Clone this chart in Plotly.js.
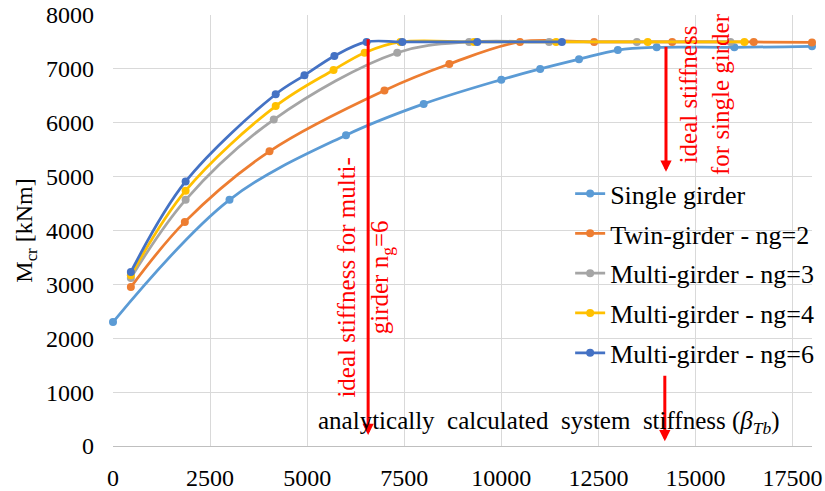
<!DOCTYPE html>
<html>
<head>
<meta charset="utf-8">
<script src="https://cdn.plot.ly/plotly-3.0.1.min.js"></script>
<style>html,body{margin:0;padding:0;background:#fff;}#chart{width:825px;height:491px;}</style>
</head>
<body>
<div id="chart"></div>
<script>
// ---- data ----
const seriesNames = ["Single girder", "Twin-girder - ng=2", "Multi-girder - ng=3", "Multi-girder - ng=4", "Multi-girder - ng=6"];
const xSingle = [0, 3000, 6000, 8000, 10000, 11000, 12000, 13000, 14000, 16000, 18000];
const ySingle = [2300, 4570, 5770, 6350, 6800, 7000, 7180, 7350, 7400, 7400, 7420];
const xTwin = [460, 1850, 4030, 6990, 8660, 10480, 12390, 14400, 16500, 18000];
const yTwin = [2950, 4160, 5470, 6600, 7090, 7500, 7500, 7500, 7500, 7490];
const xNg3 = [460, 1870, 4140, 7320, 9170, 11230, 13490, 15900];
const yNg3 = [3120, 4570, 6060, 7300, 7500, 7500, 7500, 7500];
const xNg4 = [460, 1870, 4190, 5680, 6480, 7400, 9300, 11410, 13770, 16260];
const yNg4 = [3170, 4740, 6310, 6980, 7300, 7500, 7500, 7500, 7500, 7500];
const xNg6 = [460, 1870, 4190, 4930, 5700, 6530, 7450, 9380, 11560];
const yNg6 = [3230, 4910, 6530, 6880, 7240, 7500, 7500, 7500, 7500];
const colors = ["#5B9BD5", "#ED7D31", "#A5A5A5", "#FFC000", "#4472C4"];
const xTicks = [0, 2500, 5000, 7500, 10000, 12500, 15000, 17500];
const yTicks = [0, 1000, 2000, 3000, 4000, 5000, 6000, 7000, 8000];

const FONT = "Liberation Serif, Times New Roman, serif";
const xs = [xSingle, xTwin, xNg3, xNg4, xNg6];
const ys = [ySingle, yTwin, yNg3, yNg4, yNg6];

const traces = seriesNames.map((n, i) => ({
  type: "scatter", mode: "lines+markers", name: n,
  x: xs[i], y: ys[i], legendgroup: "g" + i,
  line: {color: colors[i], width: 2.75, shape: "spline", smoothing: 1},
  marker: {color: colors[i], size: 8},
  cliponaxis: false
}));

const arrowBase = {text: "", showarrow: true, arrowhead: 2, arrowsize: 0.75, arrowwidth: 3,
  arrowcolor: "#FF0000", xref: "x", yref: "y", axref: "x", ayref: "y", standoff: 0};

const layout = {
  width: 825, height: 491,
  margin: {l: 113, r: 13, t: 15, b: 45, autoexpand: false},
  paper_bgcolor: "#fff", plot_bgcolor: "#fff",
  font: {family: FONT, color: "#000", size: 24},
  showlegend: true,
  legend: {x: 0.654, y: 0.64, xanchor: "left", yanchor: "top", bgcolor: "rgba(0,0,0,0)",
    font: {family: FONT, size: 26, color: "#000"}, tracegroupgap: 3},
  xaxis: {range: [0, 18000], tickvals: xTicks, ticktext: xTicks.map(String),
    showgrid: true, gridcolor: "#D9D9D9", gridwidth: 1, zeroline: false,
    showline: true, linecolor: "#BFBFBF", linewidth: 1, ticks: "", ticklabelstandoff: 10,
    tickfont: {family: FONT, size: 24, color: "#000"}},
  yaxis: {range: [0, 8000], tickvals: yTicks, ticktext: yTicks.map(String),
    showgrid: true, gridcolor: "#D9D9D9", gridwidth: 1, zeroline: false,
    showline: false, ticks: "", ticklabelstandoff: 18,
    tickfont: {family: FONT, size: 24, color: "#000"},
    title: {text: "M<sub>cr</sub> [kNm]", font: {family: FONT, size: 24, color: "#000"}, standoff: 6}},
  annotations: [
    Object.assign({}, arrowBase, {x: 6570, y: 205, ax: 6570, ay: 7580}),
    Object.assign({}, arrowBase, {x: 14240, y: 5090, ax: 14240, ay: 7440}),
    Object.assign({}, arrowBase, {x: 14210, y: 90, ax: 14210, ay: 1330}),
    {text: "ideal stiffness for multi-<br>girder n<sub>g</sub>=6", x: 6500, y: 3134, xref: "x", yref: "y",
      showarrow: false, textangle: -90, align: "center",
      font: {family: FONT, size: 25, color: "#FF0000"}},
    {text: "ideal stiffness<br>for single girder", x: 15240, y: 6530, xref: "x", yref: "y",
      showarrow: false, textangle: -90, align: "center",
      font: {family: FONT, size: 25, color: "#FF0000"}},
    {text: "analytically \u00a0calculated \u00a0system \u00a0stiffness (<i>\u03b2<sub>Tb</sub></i>)", x: 11230, y: 429,
      xref: "x", yref: "y", showarrow: false,
      font: {family: FONT, size: 25, color: "#000"}}
  ]
};

Plotly.newPlot("chart", traces, layout, {displayModeBar: false, staticPlot: true});
</script>
</body>
</html>
